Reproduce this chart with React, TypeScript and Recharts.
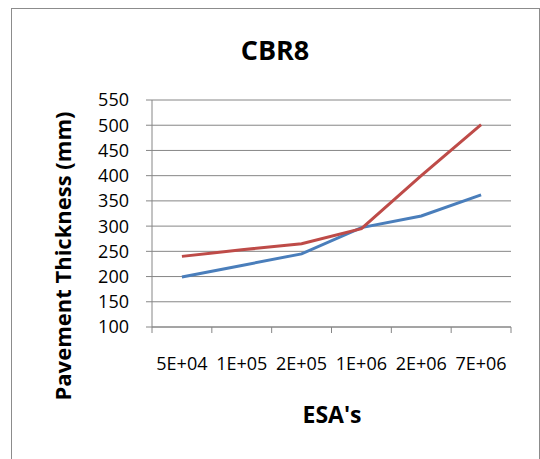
import { LineChart, Line, XAxis, YAxis, CartesianGrid } from "recharts";

const categories = ["5E+04", "1E+05", "2E+05", "1E+06", "2E+06", "7E+06"];
const blueSeries = [199, 222, 245, 297, 320, 362];
const redSeries = [240, 253, 265, 295, 400, 501];
const yTicks = [100, 150, 200, 250, 300, 350, 400, 450, 500, 550];

const data = categories.map((esa, i) => ({
  esa,
  blue: blueSeries[i],
  red: redSeries[i],
}));

const W = 540;
const H = 459;
const X_AXIS_H = 30;
const Y_AXIS_W = 60;
// plot area: x 152..511, y 100..327
const margin = { top: 100, right: 29, bottom: 132 - X_AXIS_H, left: 92 };
const plotW = W - margin.left - Y_AXIS_W - margin.right;
const band = plotW / categories.length;

const FONT = "'Open Sans', 'Noto Sans', sans-serif";
const GRID = "#868686";

// Excel-style category ticks: marks sit between categories, labels well below
const EsaTick = (props: any) => {
  const { x, y, payload, index } = props;
  const left = x - band / 2;
  return (
    <g>
      <line x1={left} y1={y} x2={left} y2={y + 6} stroke={GRID} />
      {index === categories.length - 1 && (
        <line x1={x + band / 2} y1={y} x2={x + band / 2} y2={y + 6} stroke={GRID} />
      )}
      <text
        x={x}
        y={y + 38}
        textAnchor="middle"
        dominantBaseline="middle"
        fontFamily={FONT}
        fontSize={18}
        fill="#000"
      >
        {payload.value}
      </text>
    </g>
  );
};

export default function App() {
  return (
    <div
      style={{
        position: "absolute",
        left: 0,
        top: 0,
        width: W,
        height: H,
        overflow: "hidden",
        background: "#fff",
        fontFamily: FONT,
      }}
    >
      <div
        style={{
          position: "absolute",
          left: 11,
          top: 8,
          width: 527,
          height: 470,
          border: "1px solid #8c8c8c",
        }}
      />
      <LineChart width={W} height={H} data={data} margin={margin}>
        <CartesianGrid vertical={false} stroke={GRID} />
        <XAxis
          dataKey="esa"
          height={X_AXIS_H}
          axisLine={{ stroke: GRID }}
          tickLine={false}
          tickSize={0}
          tickMargin={0}
          padding={{ left: band / 2, right: band / 2 }}
          tick={<EsaTick />}
          interval={0}
        />
        <YAxis
          width={Y_AXIS_W}
          domain={[100, 550]}
          ticks={yTicks}
          interval={0}
          axisLine={{ stroke: GRID }}
          tickLine={{ stroke: GRID }}
          tickSize={6}
          tickMargin={17}
          tick={{ fill: "#000", fontSize: 18, fontFamily: FONT }}
        />
        <Line
          dataKey="blue"
          stroke="#4A7EBB"
          strokeWidth={3}
          dot={false}
          isAnimationActive={false}
        />
        <Line
          dataKey="red"
          stroke="#BE4B48"
          strokeWidth={3}
          dot={false}
          isAnimationActive={false}
        />
      </LineChart>
      <div
        style={{
          position: "absolute",
          left: 275,
          top: 49,
          transform: "translate(-50%, -50%)",
          fontSize: 27,
          fontWeight: 700,
          whiteSpace: "nowrap",
        }}
      >
        CBR8
      </div>
      <div
        style={{
          position: "absolute",
          left: 62,
          top: 256,
          transform: "translate(-50%, -50%) rotate(-90deg)",
          fontSize: 22,
          fontWeight: 700,
          whiteSpace: "nowrap",
        }}
      >
        Pavement Thickness (mm)
      </div>
      <div
        style={{
          position: "absolute",
          left: 332,
          top: 414,
          transform: "translate(-50%, -50%)",
          fontSize: 23,
          fontWeight: 700,
          whiteSpace: "nowrap",
        }}
      >
        ESA's
      </div>
    </div>
  );
}
